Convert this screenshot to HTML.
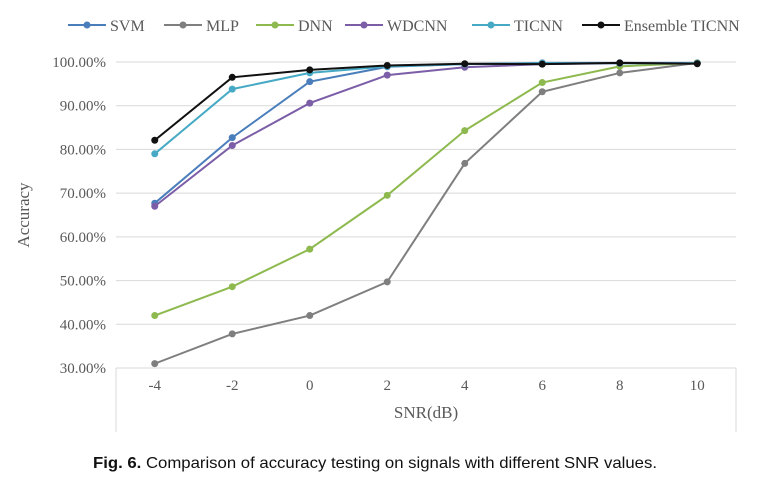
<!DOCTYPE html>
<html><head><meta charset="utf-8"><style>
body{margin:0;background:#fff;width:763px;height:484px;overflow:hidden}
svg{display:block}
</style></head><body>
<svg id="chart" width="763" height="484" xmlns="http://www.w3.org/2000/svg" font-family="Liberation Serif, serif">
<g id="grid"></g>
<g id="axes"></g>
<g id="series"></g>
<g id="legend"></g>
<text transform="translate(29,215) rotate(-90)" text-anchor="middle" font-size="17" fill="#595959">Accuracy</text>
<text x="426" y="418" text-anchor="middle" font-size="17" fill="#595959">SNR(dB)</text>
<text x="93" y="468" font-family="Liberation Sans Narrow, Liberation Sans, sans-serif" font-size="16" fill="#111" textLength="564" lengthAdjust="spacingAndGlyphs"><tspan font-weight="bold">Fig. 6.</tspan> Comparison of accuracy testing on signals with different SNR values.</text>
</svg>
<script>
const categories=["-4","-2","0","2","4","6","8","10"];
const yTicks=[30,40,50,60,70,80,90,100];
const seriesNames=["SVM","MLP","DNN","WDCNN","TICNN","Ensemble TICNN"];
const svmVals=[67.7,82.7,95.5,98.9,99.5,99.8,99.8,99.8];
const mlpVals=[31,37.8,42,49.7,76.8,93.2,97.5,99.8];
const dnnVals=[42,48.6,57.2,69.5,84.3,95.3,99,99.8];
const wdcnnVals=[67,80.9,90.6,97,98.8,99.5,99.7,99.7];
const ticnnVals=[79,93.8,97.5,99,99.5,99.7,99.7,99.7];
const ensembleVals=[82.1,96.5,98.2,99.2,99.6,99.5,99.8,99.6];
const colors=["#4a7ebb","#7f7f7f","#8db94e","#7b5ea7","#46aac5","#111111"];
const allVals=[svmVals,mlpVals,dnnVals,wdcnnVals,ticnnVals,ensembleVals];
const NS="http://www.w3.org/2000/svg";
const L=116,R=736,T=62,B=368;
const x=i=>L+(R-L)/categories.length*(i+0.5);
const y=v=>B-(v-30)/70*(B-T);
function mk(tag,attrs,parent){const e=document.createElementNS(NS,tag);for(const k in attrs)e.setAttribute(k,attrs[k]);parent.appendChild(e);return e;}
const grid=document.getElementById('grid'),axes=document.getElementById('axes'),ser=document.getElementById('series'),leg=document.getElementById('legend');
yTicks.forEach(t=>{
 const l=mk('line',{x1:L,x2:R,y1:y(t),y2:y(t),stroke:'#d9d9d9','stroke-width':1},grid);
 
 
 const tx=mk('text',{x:106,y:y(t)+5,'text-anchor':'end','font-size':15,fill:'#595959'},axes);
 tx.textContent=t.toFixed(2)+'%';
 
 
});
[L,R].forEach(xx=>{const l=mk('line',{x1:xx,x2:xx,y1:B,y2:432,stroke:'#d9d9d9'},axes);
 
 });
categories.forEach((c,i)=>{
 const tx=mk('text',{x:x(i),y:390,'text-anchor':'middle','font-size':15,fill:'#595959'},axes);
 tx.textContent=c;
 
 
});
allVals.forEach((vals,s)=>{
 const g=mk('g',{},ser);
 
 
 const p=mk('polyline',{points:vals.map((v,i)=>x(i)+','+y(v)).join(' '),fill:'none',stroke:colors[s],'stroke-width':2},g);
 
 
 vals.forEach((v,i)=>{const c=mk('circle',{cx:x(i),cy:y(v),r:3.5,fill:colors[s]},g);
  
  });
});
const legX=[68,164,256,345,472,582];
seriesNames.forEach((n,s)=>{
 const g=mk('g',{},leg);
 
 
 const lx=legX[s];
 mk('line',{x1:lx,x2:lx+38,y1:25,y2:25,stroke:colors[s],'stroke-width':2},g);
 mk('circle',{cx:lx+19,cy:25,r:3.5,fill:colors[s]},g);
 const t=mk('text',{x:lx+42,y:31,'font-size':16,fill:'#595959'},g);
 t.textContent=n;
});
</script>
</body></html>
